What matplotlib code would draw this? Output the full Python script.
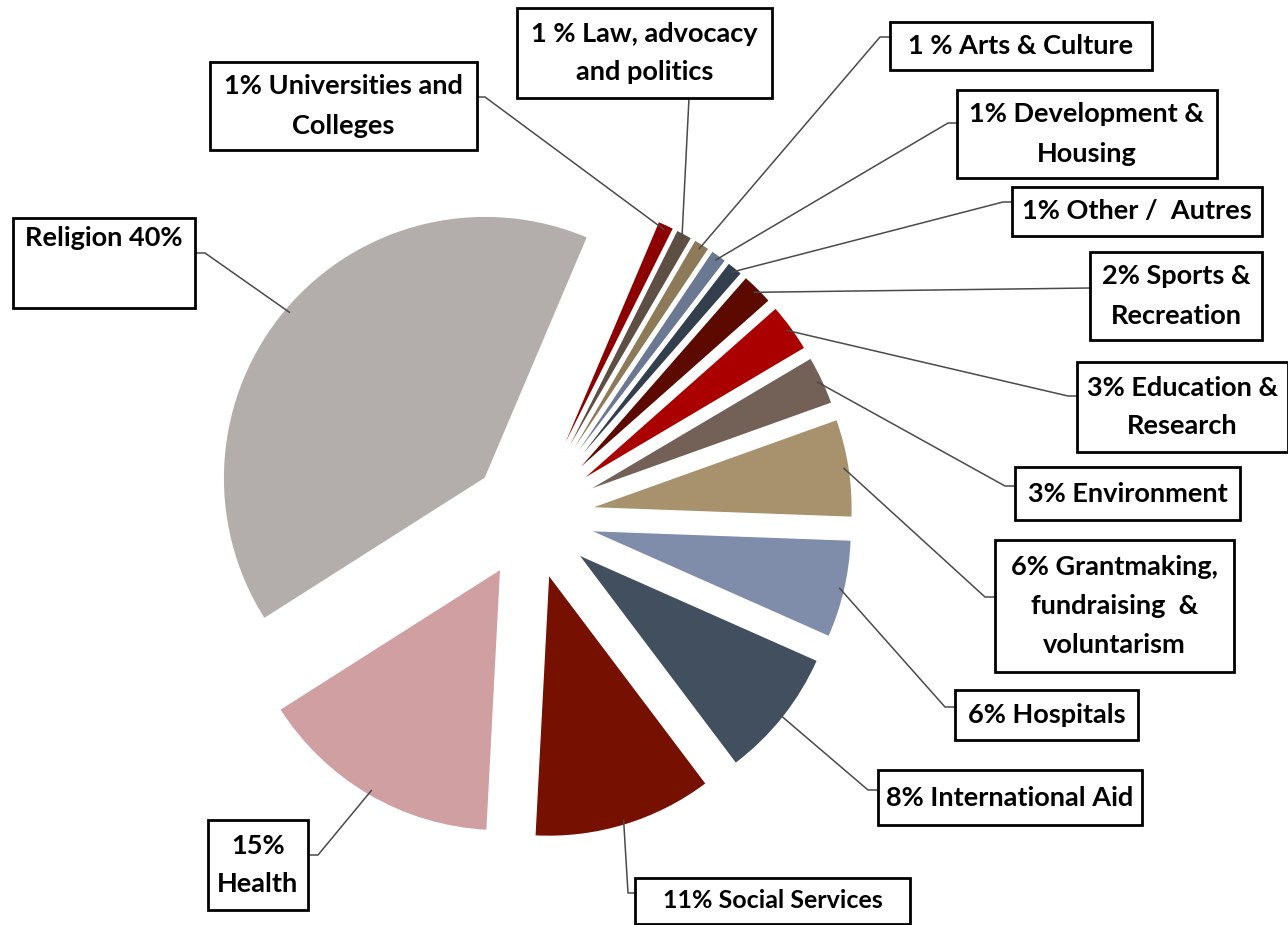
import numpy as np
import matplotlib.pyplot as plt
from matplotlib.patches import Rectangle

# data, clockwise from the top
categories = ["Universities and Colleges", "Law, advocacy and politics", "Arts & Culture",
              "Development & Housing", "Other / Autres", "Sports & Recreation",
              "Education & Research", "Environment", "Grantmaking, fundraising & voluntarism",
              "Hospitals", "International Aid", "Social Services", "Health", "Religion"]
shares = [1, 1, 1, 1, 1, 2, 3, 3, 6, 6, 8, 11, 15, 40]
label_texts = ["1% Universities and\nColleges", "1 % Law, advocacy\nand politics",
               "1 % Arts & Culture", "1% Development &\nHousing", "1% Other /  Autres",
               "2% Sports &\nRecreation", "3% Education &\nResearch", "3% Environment",
               "6% Grantmaking,\nfundraising  &\nvoluntarism", "6% Hospitals",
               "8% International Aid", "11% Social Services", "15%\nHealth", "Religion 40%"]
colors = ["#8C0000", "#5E4F45", "#8C7A58", "#6B7892", "#333F4C", "#5C0A00", "#AA0000",
          "#736056", "#A8926E", "#7F8DAA", "#414F5F", "#761000", "#CF9FA1", "#B3AEAB"]

W, H = 1288, 925

# box layout in pixels: (left, top, right, bottom), attach point, elbow point
boxes = [
    ((210, 62, 477, 150), (477, 97), (485, 97)),
    ((517, 8, 772, 98), (689, 98), None),
    ((890, 22, 1152, 70), (890, 37), (880, 37)),
    ((957, 90, 1217, 178), (957, 123), (948, 123)),
    ((1012, 187, 1262, 236), (1012, 202), (1003, 202)),
    ((1090, 252, 1262, 340), (1090, 288), None),
    ((1077, 362, 1288, 452), (1077, 396), (1068, 396)),
    ((1015, 467, 1240, 520), (1015, 486), (1005, 486)),
    ((995, 540, 1234, 672), (995, 597), (985, 597)),
    ((955, 690, 1138, 740), (955, 707), (945, 707)),
    ((878, 770, 1142, 825), (878, 790), (868, 790)),
    ((635, 878, 910, 924), (635, 893), (628, 893)),
    ((208, 820, 308, 910), (308, 855), (318, 855)),
    ((13, 218, 195, 308), (195, 253), (205, 253)),
]


def py(y):
    return H - y


fig = plt.figure(figsize=(W / 100, H / 100), dpi=100)
ax = fig.add_axes([0, 0, 1, 1])

# explode is in data units here (radius is in pixels)
wedges, _ = ax.pie(shares, colors=colors, startangle=67, counterclock=False,
                   explode=[60] * len(shares), radius=262, center=(531, py(517)),
                   wedgeprops=dict(edgecolor="white", linewidth=1.0), frame=True)
ax.set_xlim(0, W)
ax.set_ylim(0, H)
ax.set_aspect("equal")
ax.axis("off")

for w, txt, (box, attach, elbow) in zip(wedges, label_texts, boxes):
    mid = np.deg2rad((w.theta1 + w.theta2) / 2)
    cx, cy = w.center
    px_ = cx + w.r * 0.98 * np.cos(mid)
    py_ = cy + w.r * 0.98 * np.sin(mid)
    xs = [px_]
    ys = [py_]
    if elbow is not None:
        xs.append(elbow[0])
        ys.append(py(elbow[1]))
    xs.append(attach[0])
    ys.append(py(attach[1]))
    ax.plot(xs, ys, color="#4a4a4a", lw=1.1, zorder=1)

    x0, y0, x1, y1 = box
    ax.add_patch(Rectangle((x0, py(y1)), x1 - x0, y1 - y0, facecolor="white",
                           edgecolor="black", lw=2, zorder=3))
    size = 19.5
    if txt.startswith("11%"):
        size = 18
    if txt.startswith("Religion"):
        ax.text((x0 + x1) / 2, py(y0 + 8), txt, ha="center", va="top", fontsize=size,
                family="Lato", weight="bold", zorder=4)
    else:
        ax.text((x0 + x1) / 2, py((y0 + y1) / 2), txt, ha="center", va="center",
                fontsize=size, family="Lato", weight="bold", linespacing=1.75,
                zorder=4)

fig.savefig("out.png", dpi=100, facecolor="white")
